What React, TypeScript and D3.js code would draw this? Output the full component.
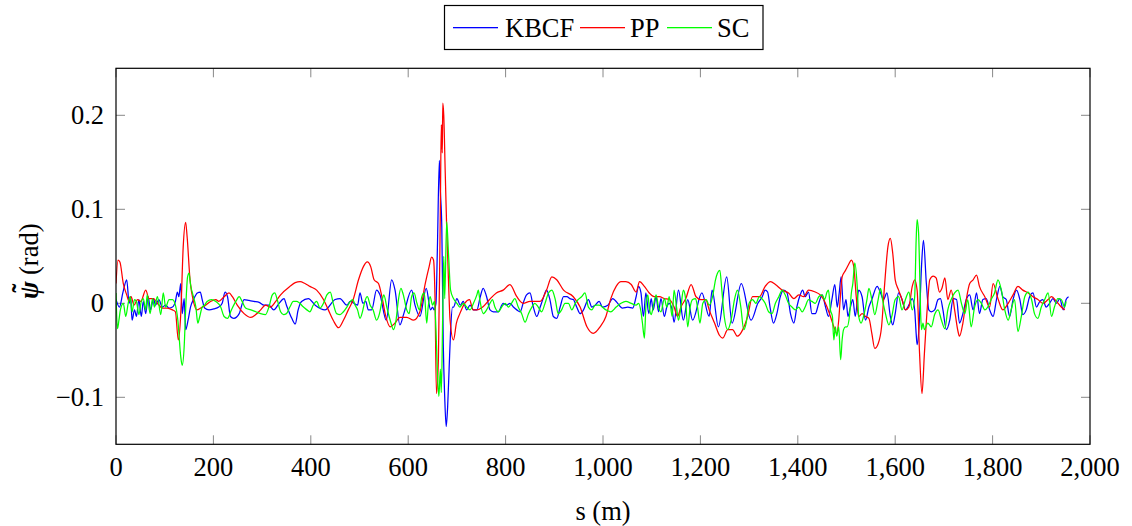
import React from "react";
import * as d3 from "d3";

const seriesNames = ["KBCF", "PP", "SC"];
const xTickValues = [0, 200, 400, 600, 800, 1000, 1200, 1400, 1600, 1800, 2000];
const yTickValues = [-0.1, 0, 0.1, 0.2];

const kbcf: [number, number][] = [
  [0,0.004],[7,-0.004],[14,0.011],[22,0.025],[27,0],[30,0.007],[33,-0.018],[38,-0.007],[42,-0.014],[47,0.004],[52,-0.014],[56,0.002],[61,-0.011],[66,0.007],[71,-0.007],[77,0.005],[81,-0.002],[88,0.004],[95,-0.004],[102,-0.002],[109,-0.005],[116,-0.004],[122,0.002],[126,0.012],[129,0.007],[133,0.021],[136,-0.011],[140,0.005],[143,-0.028],[148,-0.018],[153,-0.004],[160,0.005],[167,0.011],[173,0.012],[177,0.004],[182,-0.005],[191,-0.007],[201,-0.006],[211,-0.004],[218,0],[224,0.012],[229,0.007],[235,-0.014],[242,-0.016],[253,-0.011],[263,0.004],[273,0.003],[283,0.002],[294,0.001],[304,-0.002],[314,-0.002],[324,-0.007],[335,0],[345,0.005],
  [350,-0.002],[361,-0.016],[368,-0.022],[374,-0.007],[381,0.002],[395,0.005],[409,-0.002],[429,-0.007],[450,0.004],[460,0.005],[474,-0.002],[481,0.002],[496,-0.002],[501,0.011],[507,0],[513,0.002],[518,-0.007],[525,-0.007],[535,0.014],[542,0.009],[555,-0.018],[566,0.025],[573,0.014],[583,-0.023],[591,-0.011],[607,0.014],[614,-0.002],[624,-0.014],[637,0.016],[646,-0.007],[650,-0.004],[653,-0.007],
  [657,0.0],[660,0.06],[664,0.152],[666,0.12],[669,0.081],[672,-0.043],[675,-0.1],[678,-0.131],[681,-0.11],[684,-0.07],[687,-0.03],[691,-0.004],[693,-0.004],[700,0.005],[707,-0.002],[713,0.002],[720,-0.007],[727,-0.002],[734,-0.007],[741,-0.007],[748,0.007],[754,0.016],[761,0.007],[768,-0.007],[775,-0.009],[785,-0.009],[795,0],[802,-0.002],[809,0],[816,-0.004],[823,-0.007],[830,-0.009],[836,0],[843,0.009],[850,0.011],[857,-0.004],[864,-0.014],[871,-0.004],[877,0.005],[884,0.014],[891,0.004],[898,-0.014],[905,-0.016],[912,-0.004],[919,0.007],[926,0.007],[932,0.005],[939,0.004],[946,-0.004],[953,-0.011],[960,-0.007],[970,0.004],[977,-0.004],[984,-0.002],
  [992,0.002],[999,-0.004],[1010,-0.002],[1020,0.005],[1027,0.002],[1040,-0.005],[1051,-0.004],[1061,-0.005],[1068,0.007],[1073,0.018],[1078,0.011],[1083,-0.014],[1088,0.011],[1094,-0.011],[1099,0.005],[1103,-0.007],[1109,0.007],[1114,-0.009],[1119,0.005],[1126,-0.014],[1131,-0.004],[1136,0],[1142,-0.007],[1146,-0.02],[1155,0.014],[1165,-0.018],[1174,0.004],[1184,-0.018],[1203,0.011],[1218,-0.014],[1224,0.014],[1237,-0.025],[1254,0.028],[1265,-0.021],[1284,0.021],[1304,-0.018],[1318,0],[1327,0.007],
  [1333,0.014],[1338,0.012],[1343,-0.004],[1350,-0.021],[1357,-0.011],[1364,0.007],[1371,0.014],[1378,0.011],[1385,-0.011],[1392,-0.021],[1398,-0.004],[1405,0.009],[1410,0.014],[1415,0.007],[1422,0.012],[1429,-0.011],[1436,-0.011],[1443,0],[1450,0.009],[1457,-0.004],[1463,-0.014],[1470,0.004],[1476,0.02],[1481,-0.004],[1485,0.011],[1489,0.028],[1494,-0.007],[1499,0.004],[1503,-0.014],[1508,-0.004],[1513,0.004],[1518,-0.014],[1525,0.014],[1532,0.007],[1539,-0.018],[1546,-0.004],[1552,0.004],[1563,0.018],[1570,0.011],[1576,0.004],[1583,0.011],[1590,-0.014],[1595,-0.023],[1600,-0.011],[1607,0.011],[1614,0.004],[1621,-0.007],[1628,-0.002],[1635,0.005],[1640,-0.007],[1643,-0.032],[1645,-0.044],
  [1649,-0.025],[1654,0.039],[1658,0.067],[1664,0.021],[1669,-0.007],[1674,-0.009],[1681,-0.007],[1688,0.004],[1693,0.005],[1698,-0.007],[1705,-0.028],[1712,-0.018],[1719,0.005],[1726,0.004],[1732,-0.021],[1739,-0.011],[1746,0.004],[1753,0.009],[1760,-0.007],[1767,0.011],[1773,-0.011],[1780,0.004],[1787,0.005],[1794,-0.007],[1801,-0.014],[1808,0.004],[1815,0.018],[1821,0.007],[1828,0.004],[1835,-0.014],[1842,0.004],[1849,0.014],[1856,0.004],[1862,-0.012],[1869,-0.007],[1876,0.007],[1883,0.011],[1890,-0.004],[1897,0.002],[1903,0.004],[1910,-0.004],[1917,0],[1924,0.005],[1931,0],[1938,0.005],[1945,-0.007],[1951,0.004],[1956,0.007]
];

const pp: [number, number][] = [
  [0,0.021],[4,0.046],[8,0.044],[15,0.021],[22,0.009],[27,0.002],[31,0.007],[37,-0.002],[44,0.004],[51,0.002],[61,0.014],[68,0.005],[77,0.005],[85,0],[95,-0.005],[105,-0.005],[116,-0.007],[122,-0.009],[128,-0.039],[133,-0.011],[138,0.06],[143,0.086],[146,0.071],[152,0.025],[159,0.002],[166,-0.007],[174,-0.005],[184,-0.002],[194,0.002],[205,0.004],[211,0.002],[222,0.007],[232,0.011],[239,0.007],[249,-0.002],[263,-0.011],[277,-0.015],[287,-0.012],[297,-0.007],[307,-0.002],[317,-0.004],[328,0.002],[338,0.009],[357,0.018],[368,0.022],[378,0.023],[388,0.021],[398,0.018],[412,0.014],[426,0.004],[436,-0.007],[446,-0.018],[457,-0.026],[467,-0.018],[477,-0.007],[487,0.004],[498,0.025],[508,0.039],[516,0.044],[523,0.039],[530,0.025],[539,0.021],[546,0.007],[554,-0.014],[563,-0.025],[573,-0.021],[583,-0.015],[597,-0.015],[611,-0.018],[624,-0.009],[635,0.021],[643,0.039],[648,0.049],[652,0.046],[655,0.007],[658,-0.096],[662,-0.06],[666,0.1],[668,0.19],[670,0.16],[671,0.213],[673,0.2],[676,0.14],[679,0.081],[683,0.02],[686,-0.018],[693,-0.039],[699,-0.021],[706,-0.011],[716,0],[726,0.004],[733,-0.007],[741,-0.007],[753,-0.004],[767,0.004],[781,0.011],[795,0.014],[809,0.02],[823,0.007],[836,0],[850,0.002],[871,0.002],[884,0.014],[895,0.028],[905,0.025],[919,0.014],[939,0.007],[953,-0.004],[967,-0.025],[980,-0.032],[994,-0.025],
  [1006,-0.014],[1016,0.005],[1027,0.018],[1037,0.023],[1047,0.023],[1058,0.02],[1068,0.012],[1075,0.023],[1085,0.018],[1095,0.011],[1105,0.007],[1116,0.007],[1126,0.005],[1136,0.004],[1146,-0.004],[1153,-0.014],[1160,-0.004],[1170,0.005],[1181,0.02],[1191,0.007],[1201,0.004],[1211,0.004],[1218,-0.007],[1229,-0.021],[1239,-0.034],[1246,-0.037],[1256,-0.028],[1266,-0.028],[1276,-0.035],[1287,-0.028],[1297,-0.014],[1307,0.007],[1321,0.007],[1333,0.018],[1344,0.023],[1354,0.02],[1368,0.014],[1381,0.011],[1392,0.005],[1402,0.009],[1412,0.007],[1422,0.014],[1436,0.012],[1446,0.009],[1453,0.004],[1460,-0.004],[1467,-0.014],[1474,-0.025],[1480,-0.032],[1484,-0.018],[1487,0.004],[1491,0.028],[1498,0.035],[1504,0.041],[1510,0.046],[1515,0.039],[1520,0.007],[1525,-0.014],[1532,-0.011],[1539,-0.014],[1546,-0.016],[1552,-0.032],[1558,-0.048],[1565,-0.043],[1572,-0.025],[1578,0.018],[1585,0.06],[1590,0.069],[1595,0.053],[1600,0.025],[1607,0.014],[1614,0.004],[1621,-0.007],[1628,-0.004],[1635,0.018],[1640,0.025],[1645,0.014],[1650,-0.053],[1655,-0.096],[1660,-0.053],[1666,-0.004],[1671,0.025],[1678,0.029],[1684,0.027],[1691,0.012],[1696,0.016],[1702,0.027],[1708,0.004],[1715,0.014],[1722,-0.007],[1729,-0.03],[1732,-0.035],[1739,-0.021],[1746,0.004],[1753,0.021],[1760,0.025],[1767,0.03],[1773,0.018],[1784,0.007],[1794,-0.004],[1801,0.021],[1811,0.005],[1821,-0.007],[1832,0],[1842,0.009],[1852,0.018],[1862,0.014],[1873,0.011],[1883,0.007],[1893,0.004],[1903,0],[1914,0.004],[1921,0.007],[1931,0.002],[1941,-0.004],[1948,-0.007]
];

const sc: [number, number][] = [
  [0,0.011],[3,-0.027],[6,-0.018],[9,-0.007],[15,0],[20,-0.014],[25,0],[29,0.007],[33,-0.009],[38,0.004],[42,0.002],[47,-0.012],[52,0.002],[56,0.005],[61,-0.007],[64,0.009],[70,-0.011],[75,0.005],[79,-0.004],[85,0.007],[92,-0.012],[97,0.011],[102,-0.004],[109,0.004],[116,0.004],[122,-0.002],[127,-0.018],[133,-0.057],[136,-0.066],[140,-0.046],[143,-0.007],[147,0.028],[150,0.032],[153,0.02],[159,0.007],[164,-0.004],[168,-0.021],[172,-0.014],[177,-0.004],[182,-0.002],[187,0.002],[196,0.004],[205,0.002],[215,-0.004],[222,-0.014],[229,-0.016],[237,-0.007],[246,0.002],[253,0.007],[259,0.002],[266,-0.005],[277,-0.007],[287,-0.009],[297,-0.011],[307,-0.012],[314,-0.004],[321,0.009],[326,0.011],[331,0.004],[338,-0.009],[344,-0.012],[350,-0.011],[357,-0.004],[364,0.002],[371,0.002],[385,-0.004],[392,-0.007],[398,-0.009],[405,-0.002],[412,0.002],[419,-0.005],[426,0],[433,0.009],[440,0.012],[446,0],[453,-0.011],[460,-0.012],[467,-0.009],[474,-0.004],[481,0.002],[486,0.004],[491,-0.002],[496,-0.007],[501,-0.016],[507,-0.007],[511,0.002],[516,0.007],[522,-0.002],[528,-0.007],[535,-0.018],[541,-0.011],[546,0.002],[550,0.009],[556,-0.004],[563,-0.018],[570,-0.028],[575,-0.018],[580,0.004],[585,0.016],[590,0.009],[597,-0.007],[602,-0.011],[607,0.007],[612,0.011],[618,0],[623,-0.007],[628,0.007],[633,0.011],[638,-0.021],[641,-0.004],[645,0.007],[650,-0.002],[654,0.002],[657,-0.028],
  [660,-0.074],[663,-0.099],[666,-0.07],[668,-0.095],[671,-0.007],[673,0.05],[675,0.005],[679,0.087],[683,0.05],[687,0.014],[693,0.005],[700,0],[706,-0.004],[713,0],[720,-0.004],[727,-0.007],[734,0],[741,0.009],[744,0.014],[747,0.004],[754,-0.011],[761,-0.007],[768,0],[773,0.004],[778,-0.004],[785,-0.009],[792,-0.004],[799,0],[806,-0.004],[812,0],[819,0.005],[826,-0.004],[833,-0.011],[840,-0.02],[847,-0.011],[854,-0.004],[860,0],[867,-0.004],[874,-0.009],[881,0],[888,0.011],[895,0.014],[902,0.004],[908,-0.011],[915,-0.007],[922,0],[929,0],[936,-0.007],[943,0],[949,0.004],[956,0.007],[963,0.011],[970,-0.004],[977,-0.007],[984,-0.002],[992,-0.002],
  [1006,-0.007],[1016,-0.009],[1027,-0.004],[1037,0],[1047,0.002],[1058,0],[1068,-0.002],[1073,0],[1078,-0.009],[1081,-0.021],[1085,-0.037],[1088,-0.004],[1092,0.009],[1095,-0.004],[1099,-0.012],[1103,-0.004],[1109,0.009],[1114,-0.004],[1119,-0.009],[1126,0.005],[1131,-0.004],[1136,0.007],[1142,-0.014],[1146,0.014],[1151,-0.004],[1155,-0.018],[1160,-0.004],[1165,0.014],[1169,0.007],[1174,-0.025],[1179,-0.004],[1184,0.004],[1190,0.005],[1194,-0.004],[1199,-0.021],[1205,0],[1212,0.004],[1218,-0.002],[1225,0.007],[1231,0.025],[1235,0.032],[1240,0.035],[1244,0.014],[1249,-0.014],[1256,-0.028],[1263,-0.018],[1270,0.004],[1276,0.014],[1283,-0.004],[1289,-0.028],[1294,-0.021],[1300,0],[1307,0.004],[1314,0],[1321,0.007],[1328,0.004],[1333,0],[1340,-0.009],[1347,-0.011],[1354,0],[1361,0.007],[1368,0.014],[1374,0.009],[1381,0],[1388,-0.004],[1395,-0.007],[1402,-0.004],[1409,-0.009],[1415,-0.004],[1422,0.004],[1429,0.002],[1436,0],[1443,0.007],[1450,0.009],[1455,0.004],[1460,0.012],[1463,0.014],[1467,-0.007],[1471,-0.014],[1474,-0.039],[1477,-0.025],[1480,-0.035],[1484,-0.025],[1488,-0.06],[1491,-0.039],[1494,-0.028],[1498,-0.025],[1501,-0.025],[1506,-0.014],[1510,0.011],[1513,0.021],[1517,0.043],[1522,0.018],[1525,-0.014],[1530,-0.021],[1535,-0.014],[1542,0.004],[1546,0.016],[1552,0.004],[1558,-0.012],[1565,0.004],[1570,0.016],[1574,0.004],[1580,-0.011],[1587,-0.023],[1593,-0.014],[1600,0.004],[1607,0.007],[1614,-0.007],[1621,0.004],[1628,0.012],[1635,-0.007],[1640,0.007],[1643,0.067],[1645,0.089],[1648,0.075],[1650,0.039],[1652,-0.007],[1654,-0.028],[1657,-0.021],[1660,-0.028],[1667,-0.021],[1674,-0.025],[1681,-0.012],[1688,-0.007],[1695,-0.018],[1702,-0.027],[1708,-0.007],[1715,0.004],[1722,0.011],[1729,0.014],[1736,0],[1743,-0.011],[1749,0.004],[1756,-0.025],[1763,-0.004],[1770,0.004],[1777,0],[1784,-0.007],[1790,-0.004],[1797,0.004],[1804,0.011],[1811,0.025],[1818,0.014],[1825,-0.007],[1832,-0.018],[1838,-0.007],[1845,0.004],[1852,-0.03],[1859,-0.014],[1866,0.007],[1873,0.012],[1880,0.004],[1886,-0.011],[1893,-0.016],[1900,-0.004],[1907,0.004],[1914,0.011],[1921,-0.014],[1927,-0.004],[1934,0.005],[1941,0.004],[1948,-0.004],[1951,0.002]
];

const seriesData = [kbcf, pp, sc];
const seriesColors = ["#0000ff", "#ff0000", "#00ff00"];

const W = 1132;
const H = 526;
const left = 116;
const right = 1090;
const top = 68.3;
const bottom = 444.3;
const FONT = "'Liberation Serif', 'Times New Roman', 'DejaVu Serif', serif";
const FS = 26.5;

export default function App() {
  const x = d3.scaleLinear().domain([0, 2000]).range([left, right]);
  const y = d3.scaleLinear().domain([-0.15, 0.25]).range([bottom, top]);
  const lineGen = d3
    .line<[number, number]>()
    .x((d) => x(d[0]))
    .y((d) => y(d[1]))
    .curve(d3.curveMonotoneX);
  const fmtX = d3.format(",");
  const fmtY = (v: number) => (v === 0 ? "0" : d3.format(".1f")(v));
  const tickLen = 9;

  const legendItems = [
    { x1: 453, x2: 498, tx: 505 },
    { x1: 580, x2: 625, tx: 630 },
    { x1: 667, x2: 712, tx: 717 },
  ];

  return (
    <svg
      width={W}
      height={H}
      style={{ position: "absolute", left: 0, top: 0, background: "#fff" }}
      fontFamily={FONT}
    >
      <rect x={0} y={0} width={W} height={H} fill="#fff" />
      <defs>
        <clipPath id="plotClip">
          <rect x={left} y={top} width={right - left} height={bottom - top} />
        </clipPath>
      </defs>
      {xTickValues.map((t) => (
        <g key={"xt" + t}>
          <path d={`M${x(t)},${bottom}V${bottom - tickLen}`} stroke="#888" strokeWidth={1} />
          <path d={`M${x(t)},${top}V${top + tickLen}`} stroke="#888" strokeWidth={1} />
          <text x={x(t)} y={bottom + 32} textAnchor="middle" fontSize={FS} fill="#000">
            {fmtX(t)}
          </text>
        </g>
      ))}
      {yTickValues.map((t) => (
        <g key={"yt" + t}>
          <path d={`M${left},${y(t)}H${left + tickLen}`} stroke="#888" strokeWidth={1} />
          <path d={`M${right},${y(t)}H${right - tickLen}`} stroke="#888" strokeWidth={1} />
          <text x={left - 12} y={y(t) + 9} textAnchor="end" fontSize={FS} fill="#000">
            {fmtY(t)}
          </text>
        </g>
      ))}
      <g clipPath="url(#plotClip)">
        {seriesData.map((d, i) => (
          <path
            key={seriesNames[i]}
            d={lineGen(d) || ""}
            fill="none"
            stroke={seriesColors[i]}
            strokeWidth={1.25}
            strokeLinejoin="round"
          />
        ))}
      </g>
      <rect x={left} y={top} width={right - left} height={bottom - top} fill="none" stroke="#000" strokeWidth={1.2} />
      <text x={(left + right) / 2} y={520} textAnchor="middle" fontSize={FS} fill="#000">
        s (m)
      </text>
      <g transform="translate(38, 262) rotate(-90)">
        <text x={-37} y={0} fontSize={FS} fontStyle="italic" fontWeight="bold" fill="#000">
          {"\u03C8"}
        </text>
        <text x={-26} y={-7} fontSize={FS} textAnchor="middle" fontWeight="bold" fill="#000">
          {"\u02DC"}
        </text>
        <text x={-13} y={0} fontSize={FS} fill="#000">
          (rad)
        </text>
      </g>
      <rect x={444.5} y={5.5} width={318.5} height={44} fill="#fff" stroke="#000" strokeWidth={1.2} />
      {legendItems.map((it, i) => (
        <g key={"lg" + i}>
          <rect x={it.x1} y={27} width={it.x2 - it.x1} height={1.3} fill={seriesColors[i]} />
          <text x={it.tx} y={37} fontSize={FS} fill="#000">
            {seriesNames[i]}
          </text>
        </g>
      ))}
    </svg>
  );
}
